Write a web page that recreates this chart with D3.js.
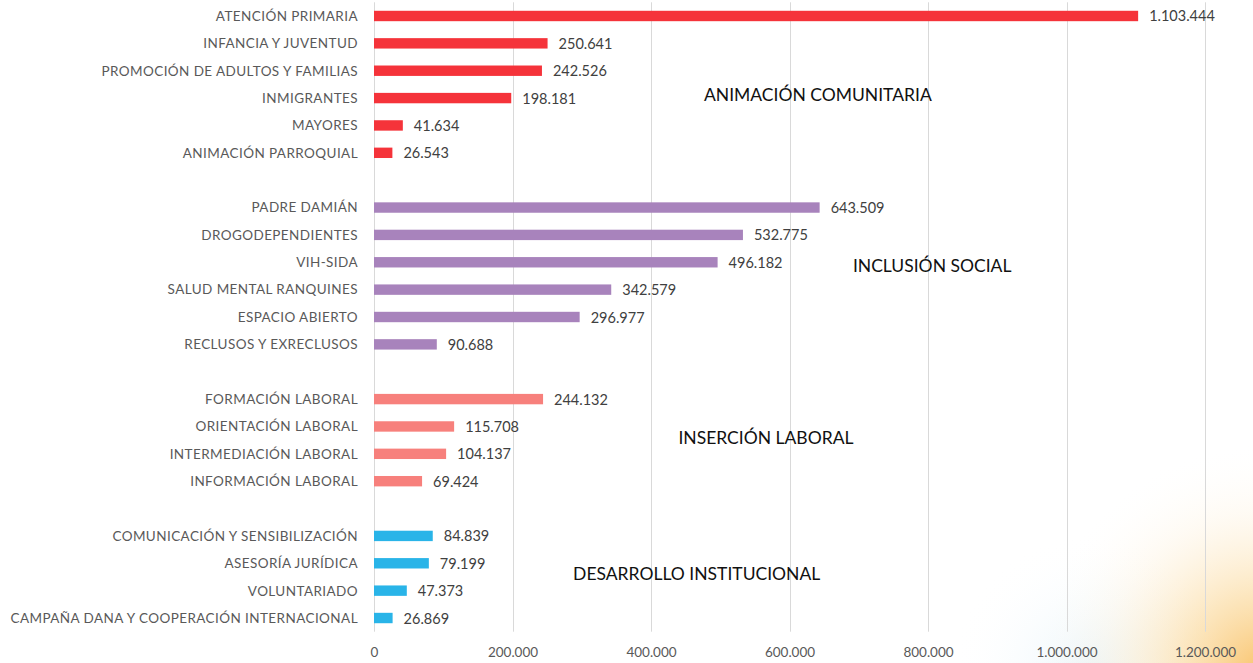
<!DOCTYPE html>
<html><head><meta charset="utf-8">
<script src="https://cdn.jsdelivr.net/npm/d3@7"></script>
<style>
html,body{margin:0;padding:0;background:#fff;}
svg{display:block;}
</style></head>
<body>
<div id="chart"></div>
<script>
const categories = [
  "ATENCIÓN PRIMARIA","INFANCIA Y JUVENTUD","PROMOCIÓN DE ADULTOS Y FAMILIAS","INMIGRANTES","MAYORES","ANIMACIÓN PARROQUIAL",
  "PADRE DAMIÁN","DROGODEPENDIENTES","VIH-SIDA","SALUD MENTAL RANQUINES","ESPACIO ABIERTO","RECLUSOS Y EXRECLUSOS",
  "FORMACIÓN LABORAL","ORIENTACIÓN LABORAL","INTERMEDIACIÓN LABORAL","INFORMACIÓN LABORAL",
  "COMUNICACIÓN Y SENSIBILIZACIÓN","ASESORÍA JURÍDICA","VOLUNTARIADO","CAMPAÑA DANA Y COOPERACIÓN INTERNACIONAL"
];
const values = [
  1103444,250641,242526,198181,41634,26543,
  643509,532775,496182,342579,296977,90688,
  244132,115708,104137,69424,
  84839,79199,47373,26869
];
const groupOf = [0,0,0,0,0,0, 1,1,1,1,1,1, 2,2,2,2, 3,3,3,3];
const groups = ["ANIMACIÓN COMUNITARIA","INCLUSIÓN SOCIAL","INSERCIÓN LABORAL","DESARROLLO INSTITUCIONAL"];
const xTicks = [0,200000,400000,600000,800000,1000000,1200000];

// styling / layout (not data)
const groupColors = ["#F5333A","#A883BC","#F7807C","#29B4E8"];
const groupLabelX = [641000, 806000, 566000, 466000];   // label centre, in axis units
const groupLabelSlot = [2.89, 9.14, 15.42, 20.39];       // label centre, in row slots

const W = 1253, H = 663;
const margin = {left:374, right:48, top:2.3, bottom:31.3};

// build slot domain with gaps between groups
const slots = [];
categories.forEach((c,i)=>{
  if (i>0 && groupOf[i]!==groupOf[i-1]) slots.push("gap"+groupOf[i]);
  slots.push(c);
});

const svg = d3.select("#chart").append("svg").attr("width",W).attr("height",H);

// background glow bottom-right
const defs = svg.append("defs");
const rg = defs.append("radialGradient").attr("id","glow")
  .attr("cx",W+10).attr("cy",H+10).attr("r",230).attr("gradientUnits","userSpaceOnUse");
rg.append("stop").attr("offset","0%").attr("stop-color","#F8B850").attr("stop-opacity",0.85);
rg.append("stop").attr("offset","35%").attr("stop-color","#FAD38C").attr("stop-opacity",0.55);
rg.append("stop").attr("offset","70%").attr("stop-color","#FDEBCB").attr("stop-opacity",0.22);
rg.append("stop").attr("offset","100%").attr("stop-color","#ffffff").attr("stop-opacity",0);
const rg2 = defs.append("radialGradient").attr("id","glow2")
  .attr("cx",1090).attr("cy",H+10).attr("r",140).attr("gradientUnits","userSpaceOnUse");
rg2.append("stop").attr("offset","0%").attr("stop-color","#DDEFF8").attr("stop-opacity",0.6);
rg2.append("stop").attr("offset","100%").attr("stop-color","#ffffff").attr("stop-opacity",0);
svg.append("rect").attr("width",W).attr("height",H).attr("fill","#fff");
svg.append("rect").attr("width",W).attr("height",H).attr("fill","url(#glow2)");
svg.append("rect").attr("width",W).attr("height",H).attr("fill","url(#glow)");

const x = d3.scaleLinear().domain([0,1200000]).range([margin.left, W-margin.right]);
const y = d3.scaleBand().domain(slots).range([margin.top, H-margin.bottom]).paddingInner(0.62).paddingOuter(0.31);
const yCenter = c => y(c) + y.bandwidth()/2;
const step = y.step();
const slotCenter = s => y(slots[0]) + y.bandwidth()/2 + s*step;

const fmt = v => d3.format(",")(v).replace(/,/g,".");
const FONT = "Lato, 'Open Sans', sans-serif";

// gridlines
svg.append("g").selectAll("line").data(xTicks).join("line")
  .attr("x1",d=>Math.round(x(d))+0.5).attr("x2",d=>Math.round(x(d))+0.5)
  .attr("y1",margin.top).attr("y2",H-margin.bottom)
  .attr("stroke","#D9D9D9").attr("stroke-width",1);

// axis tick labels
const xAxis = d3.axisBottom(x).tickValues(xTicks).tickFormat(fmt).tickSize(0).tickPadding(0);
const ax = svg.append("g").attr("transform",`translate(0,${H-margin.bottom})`).call(xAxis);
ax.select(".domain").remove();
ax.selectAll("text").attr("dy",null).attr("y",25)
  .attr("fill","#595959").style("font-family",FONT).style("font-size","13.5px");

// bars
svg.append("g").selectAll("rect").data(categories).join("rect")
  .attr("x",x(0)).attr("y",d=>y(d))
  .attr("width",(d,i)=>x(values[i])-x(0)).attr("height",y.bandwidth())
  .attr("fill",(d,i)=>groupColors[groupOf[i]]);

// value labels
svg.append("g").selectAll("text").data(categories).join("text")
  .attr("x",(d,i)=>x(values[i])+11).attr("y",d=>yCenter(d)).attr("dy","0.38em")
  .attr("fill","#404040").style("font-family",FONT).style("font-size","14.5px")
  .text((d,i)=>fmt(values[i]));

// category labels
svg.append("g").selectAll("text").data(categories).join("text")
  .attr("x",margin.left-16).attr("y",d=>yCenter(d)).attr("dy","0.36em")
  .attr("text-anchor","end")
  .attr("fill","#595959").style("font-family",FONT).style("font-size","13.5px")
  .style("letter-spacing","0.42px")
  .text(d=>d);

// group labels
svg.append("g").selectAll("text").data(groups).join("text")
  .attr("x",(d,i)=>x(groupLabelX[i]))
  .attr("y",(d,i)=>slotCenter(groupLabelSlot[i]))
  .attr("dy","0.36em").attr("text-anchor","middle")
  .attr("fill","#111").style("font-family",FONT).style("font-size","17.5px")
  .text(d=>d);
</script>
</body></html>
